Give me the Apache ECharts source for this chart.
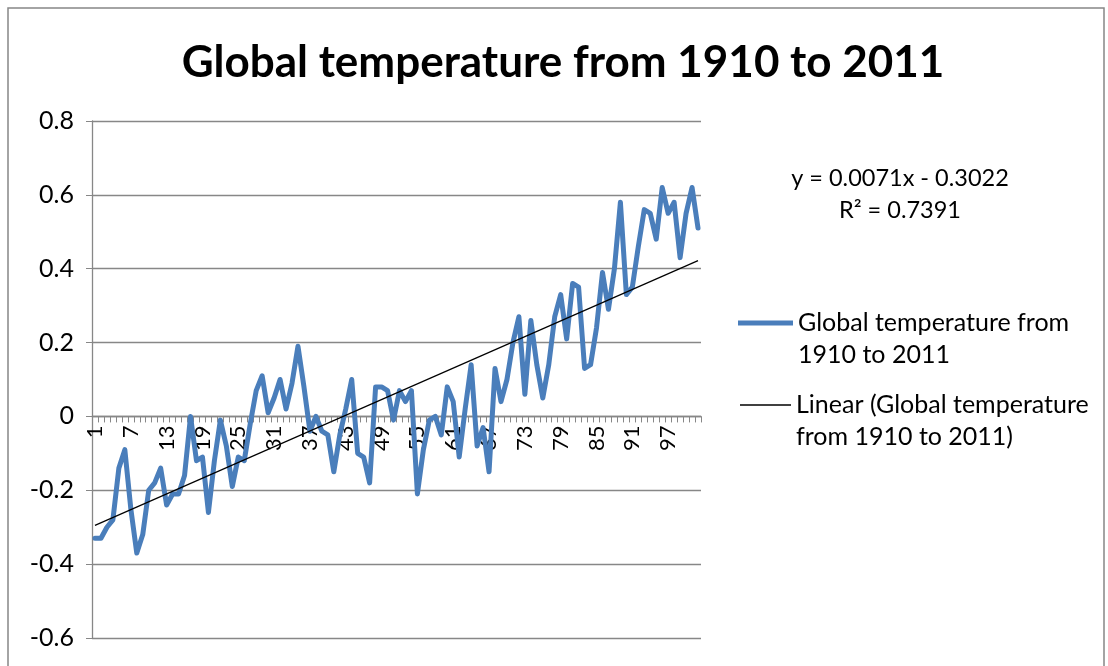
<!DOCTYPE html>
<html>
<head>
<meta charset="utf-8">
<script src="https://cdn.jsdelivr.net/npm/echarts@6/dist/echarts.min.js"></script>
<style>
  html, body { margin: 0; padding: 0; background: #ffffff; }
  #chart { width: 1108px; height: 666px; }
</style>
</head>
<body>
<div id="chart"></div>
<script>
// Global temperature anomaly, one value per year 1910..2011 (category 1..102)
const chartTitle = 'Global temperature from 1910 to 2011';
const seriesName = 'Global temperature from 1910 to 2011';
const trendName = 'Linear (Global temperature from 1910 to 2011)';

const categories = [
  '1','2','3','4','5','6','7','8','9','10',
  '11','12','13','14','15','16','17','18','19','20',
  '21','22','23','24','25','26','27','28','29','30',
  '31','32','33','34','35','36','37','38','39','40',
  '41','42','43','44','45','46','47','48','49','50',
  '51','52','53','54','55','56','57','58','59','60',
  '61','62','63','64','65','66','67','68','69','70',
  '71','72','73','74','75','76','77','78','79','80',
  '81','82','83','84','85','86','87','88','89','90',
  '91','92','93','94','95','96','97','98','99','100',
  '101','102'
];

const temperature = [
  -0.33, -0.33, -0.30, -0.28, -0.14, -0.09, -0.25, -0.37, -0.32, -0.20,
  -0.18, -0.14, -0.24, -0.21, -0.21, -0.16,  0.00, -0.12, -0.11, -0.26,
  -0.12, -0.01, -0.08, -0.19, -0.11, -0.12, -0.02,  0.07,  0.11,  0.01,
   0.05,  0.10,  0.02,  0.09,  0.19,  0.08, -0.04,  0.00, -0.04, -0.05,
  -0.15, -0.05,  0.02,  0.10, -0.10, -0.11, -0.18,  0.08,  0.08,  0.07,
  -0.01,  0.07,  0.04,  0.07, -0.21, -0.09, -0.01,  0.00, -0.05,  0.08,
   0.04, -0.11,  0.02,  0.14, -0.08, -0.03, -0.15,  0.13,  0.04,  0.10,
   0.20,  0.27,  0.06,  0.26,  0.14,  0.05,  0.14,  0.27,  0.33,  0.21,
   0.36,  0.35,  0.13,  0.14,  0.24,  0.39,  0.29,  0.40,  0.58,  0.33,
   0.35,  0.46,  0.56,  0.55,  0.48,  0.62,  0.55,  0.58,  0.43,  0.55,
   0.62,  0.51
];

// Least-squares trendline as printed on the chart
const trendSlope = 0.0071;
const trendIntercept = -0.3022;
const rSquared = 0.7391;

const yTicks = { min: -0.6, max: 0.8, interval: 0.2 };

// Trendline runs from the first to the last category; the points between are left empty
const trendData = categories.map(function (c, i) {
  if (i === 0 || i === categories.length - 1) {
    return +(trendSlope * Number(c) + trendIntercept).toFixed(4);
  }
  return null;
});

const equationText =
  'y = ' + trendSlope + 'x ' + (trendIntercept < 0 ? '- ' : '+ ') + Math.abs(trendIntercept) +
  '\nR\u00B2 = ' + rSquared;

// Legend entries wrap onto two lines; a leading blank line keeps the key
// level with the first line of text (the key is centred on the text block)
const legendText = {};
legendText[seriesName] = '\nGlobal temperature from\n1910 to 2011';
legendText[trendName] = '\nLinear (Global temperature\nfrom 1910 to 2011)';

const FONT = 'Lato, "Open Sans", sans-serif';
const GRID_GRAY = '#878787';
const LINE_BLUE = '#4a7ebb';

// Plot rectangle
const GRID = { left: 92, right: 407, top: 121, bottom: 28 };
const plotHeight = 666 - GRID.top - GRID.bottom;
// The category axis crosses the value axis at 0
const zeroFromBottom = plotHeight * (0 - yTicks.min) / (yTicks.max - yTicks.min);

const chart = echarts.init(document.getElementById('chart'), null, { renderer: 'canvas' });

const legendTextStyle = {
  fontFamily: FONT,
  fontSize: 25,
  color: '#000000',
  lineHeight: 32
};

chart.setOption({
  backgroundColor: '#ffffff',
  animation: false,
  title: [
    {
      text: chartTitle,
      left: 563,
      top: 41,
      padding: 0,
      textAlign: 'center',
      textStyle: { fontFamily: FONT, fontSize: 44, fontWeight: 'bold', color: '#000000' }
    },
    {
      text: equationText,
      left: 900,
      top: 162,
      padding: 0,
      textAlign: 'center',
      textStyle: { fontFamily: FONT, fontSize: 23.5, fontWeight: 'normal', color: '#000000', lineHeight: 32 }
    }
  ],
  legend: [
    {
      data: [seriesName],
      orient: 'vertical',
      left: 738,
      top: 275,
      padding: 0,
      icon: 'rect',
      itemWidth: 55,
      itemHeight: 5,
      formatter: function (name) { return legendText[name]; },
      textStyle: legendTextStyle,
      selectedMode: false
    },
    {
      data: [trendName],
      orient: 'vertical',
      left: 740,
      top: 357,
      padding: 0,
      icon: 'rect',
      itemWidth: 51,
      itemHeight: 1.4,
      formatter: function (name) { return legendText[name]; },
      textStyle: legendTextStyle,
      selectedMode: false
    }
  ],
  grid: {
    left: GRID.left,
    right: GRID.right,
    top: GRID.top,
    bottom: GRID.bottom,
    containLabel: false
  },
  xAxis: {
    type: 'category',
    data: categories,
    boundaryGap: true,
    position: 'bottom',
    offset: -zeroFromBottom,
    axisLine: { onZero: false, lineStyle: { color: GRID_GRAY, width: 1.3 } },
    axisTick: { show: true, interval: 0, length: 6, inside: false, lineStyle: { color: GRID_GRAY, width: 1 } },
    axisLabel: {
      interval: 5,
      rotate: 90,
      margin: 9,
      fontFamily: FONT,
      fontSize: 22,
      color: '#000000'
    },
    splitLine: { show: false }
  },
  yAxis: {
    type: 'value',
    min: yTicks.min,
    max: yTicks.max,
    interval: yTicks.interval,
    axisLine: { show: true, lineStyle: { color: GRID_GRAY, width: 1.3 } },
    axisTick: { show: true, length: 6, inside: false, lineStyle: { color: GRID_GRAY, width: 1 } },
    axisLabel: {
      margin: 18,
      fontFamily: FONT,
      fontSize: 25,
      color: '#000000',
      formatter: function (v) { return String(+v.toFixed(1)); }
    },
    splitLine: { show: true, lineStyle: { color: GRID_GRAY, width: 1.3 } }
  },
  series: [
    {
      name: seriesName,
      type: 'line',
      data: temperature,
      symbol: 'none',
      smooth: false,
      z: 3,
      color: LINE_BLUE,
      lineStyle: { color: LINE_BLUE, width: 5, cap: 'round', join: 'round' }
    },
    {
      name: trendName,
      type: 'line',
      data: trendData,
      connectNulls: true,
      symbol: 'none',
      z: 4,
      color: '#000000',
      lineStyle: { color: '#000000', width: 1.2 }
    }
  ],
  graphic: [
    {
      type: 'rect',
      silent: true,
      z: -1,
      shape: { x: 8, y: 8, width: 1096, height: 700 },
      style: { fill: null, stroke: GRID_GRAY, lineWidth: 1.5 }
    }
  ]
});
</script>
</body>
</html>
